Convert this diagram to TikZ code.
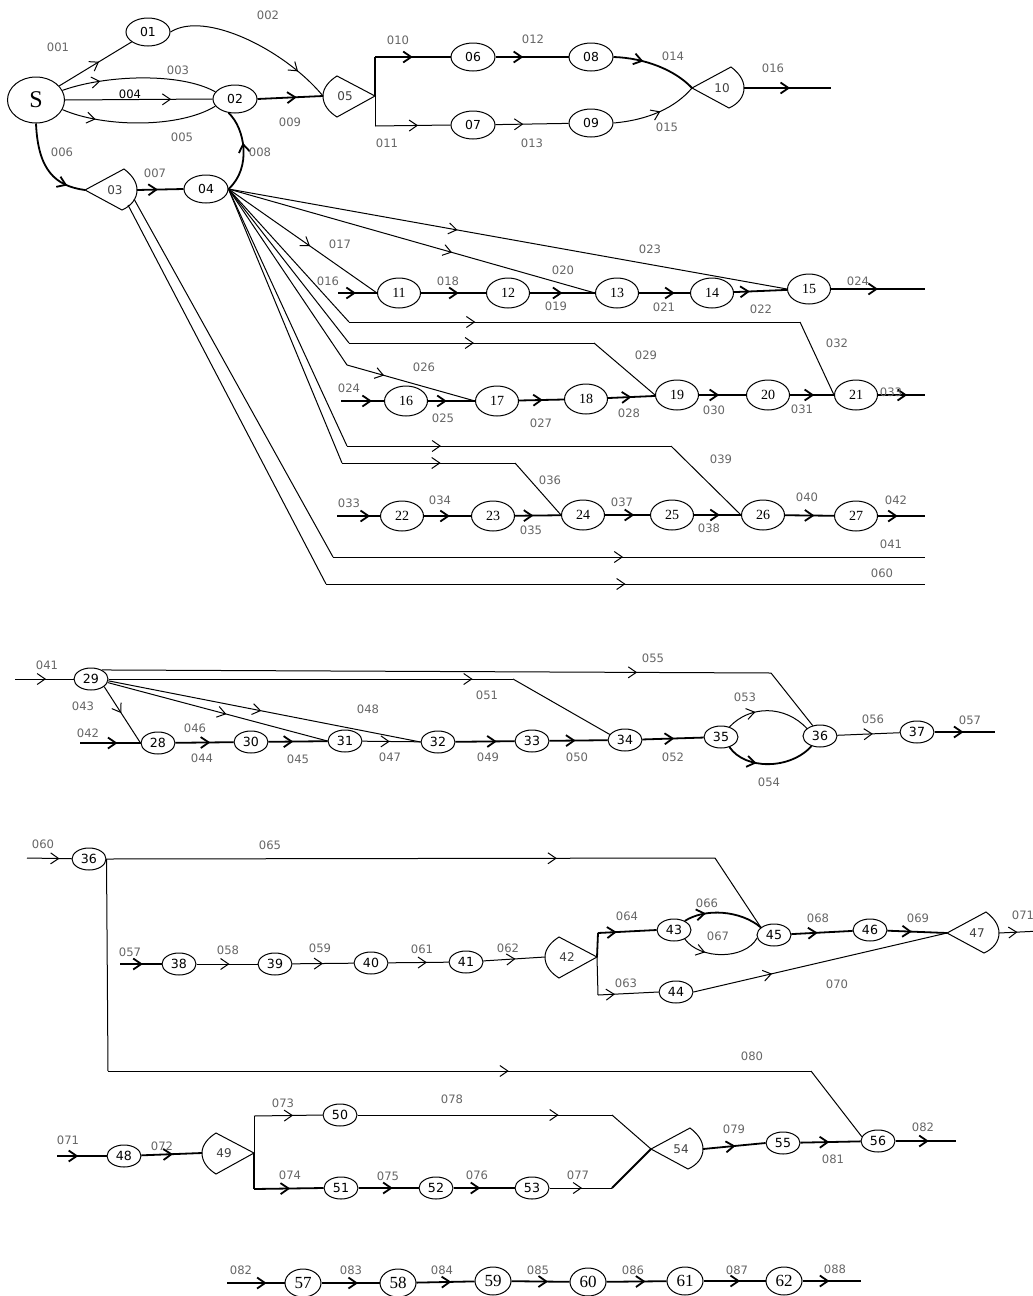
\documentclass[tikz,border=0pt]{standalone}
\usepackage{fontspec}
\setmainfont{DejaVu Sans}
\newfontfamily\tms{Liberation Serif}
\usetikzlibrary{shapes.geometric,arrows.meta,decorations.markings}

% gate with the point on the left: name, x, y, text
\newcommand{\gatel}[4]{%
  \begin{scope}[shift={(#2,#3)}]
    \draw[gate] (0,0) -- (39,-21) .. controls (47,-15) and (52,-8) .. (52,0) .. controls (52,9) and (46,16) .. (37,20) -- cycle;
    \coordinate (#1p) at (0,0);
    \coordinate (#1r) at (52,0);
    \node[gtxt] (#1) at (30,0) {#4};
  \end{scope}}
% gate with the point on the right
\newcommand{\gater}[4]{%
  \begin{scope}[shift={(#2,#3)}]
    \draw[gate] (0,0) -- (-38,-20) .. controls (-46,-15) and (-52,-8) .. (-52,0) .. controls (-52,9) and (-46,16) .. (-38,21) -- cycle;
    \coordinate (#1p) at (0,0);
    \coordinate (#1r) at (-52,0);
    \node[gtxt] (#1) at (-30,0) {#4};
  \end{scope}}

\begin{document}
\begin{tikzpicture}[
    x=0.5pt, y=-0.5pt, line width=0.5pt,
    >={Straight Barb[length=4pt,width=5.5pt]},
    sv/.style={ellipse, draw, inner sep=0pt, minimum width=28.5pt, minimum height=23pt, font=\tms\fontsize{12}{13}\selectfont},
    tv/.style={ellipse, draw, inner sep=0pt, minimum width=22pt, minimum height=14pt, font=\fontsize{6.2}{7}\selectfont},
    rv/.style={ellipse, draw, inner sep=0pt, minimum width=21.5pt, minimum height=15pt, font=\tms\fontsize{7}{8}\selectfont},
    mv/.style={ellipse, draw, inner sep=0pt, minimum width=17pt, minimum height=11pt, font=\fontsize{6.3}{7}\selectfont},
    bv/.style={ellipse, draw, inner sep=0pt, minimum width=18pt, minimum height=14pt, font=\tms\fontsize{8.5}{9}\selectfont},
    gate/.style={draw, fill=white},
    gtxt/.style={inner sep=0pt, font=\fontsize{6}{7}\selectfont, text=black!75},
    lab/.style={inner sep=0pt, font=\fontsize{5.8}{7}\selectfont, text=black!60},
    thk/.style={line width=0.9pt},
    arr/.style={postaction={decorate}, decoration={markings, mark=at position #1 with {\arrow{>}}}},
    arr/.default=0.5
]
\useasboundingbox (0,0) rectangle (1033,1296);

% ---------- part 1
\node[sv] (nS) at (36,100) {S};
\node[tv] (n01) at (148,32) {01};
\node[tv] (n02) at (235,99) {02};
\node[tv] (n04) at (206,189) {04};
\gatel{n03}{85}{190}{03}
\gater{n05}{375}{96}{05}
\node[tv] (n06) at (473,57) {06};
\node[tv] (n07) at (473,125) {07};
\node[tv] (n08) at (591,57) {08};
\node[tv] (n09) at (591,123) {09};
\gatel{n10}{692}{88}{10}
\coordinate (k010) at (375,57);
\coordinate (k011) at (375,126);
\coordinate (e016) at (831,88);

\draw[arr=.55] (nS) -- (n01);
\draw[arr=.8] (n01.east) .. controls (205,10) and (285,50) .. (n05r);
\draw[arr=.25] (nS.20) .. controls (105,75) and (180,72) .. (n02.160);
\draw[arr=.72] (nS.east) -- (n02.west);
\draw[arr=.22] (nS.-20) .. controls (105,128) and (180,128) .. (n02.-160);
\draw[thk,arr=.8] (nS.south) .. controls (38,170) and (55,186) .. (n03p);
\draw[thk,arr=.45] (n03r) -- (n04.west);
\draw[thk,arr=.6] (n04.east) .. controls (252,168) and (245,128) .. (n02.-115);
\draw[thk,arr=.6] (n02.east) -- (n05r);
\draw[thk] (n05p) -- (k010);
\draw (n05p) -- (k011);
\draw[thk,arr=.5] (k010) -- (n06.west);
\draw[arr=.57] (k011) -- (n07.west);
\draw[thk,arr=.38] (n06) -- (n08);
\draw[arr=.38] (n07) -- (n09);
\draw[thk,arr=.35] (n08.east) .. controls (645,58) and (675,70) .. (n10p);
\draw[arr=.55] (n09.east) .. controls (648,120) and (675,108) .. (n10p);
\draw[thk,arr=.53] (n10r) -- (e016);

\node[lab] (l001) at (58,47) {001};
\node[lab] (l002) at (268,15) {002};
\node[lab] (l003) at (178,70) {003};
\node[lab, text=black] (l004) at (130,94) {004};
\node[lab] (l005) at (182,137) {005};
\node[lab] (l006) at (62,152) {006};
\node[lab] (l007) at (155,173) {007};
\node[lab] (l008) at (260,152) {008};
\node[lab] (l009) at (290,122) {009};
\node[lab] (l010) at (398,40) {010};
\node[lab] (l011) at (387,143) {011};
\node[lab] (l012) at (533,39) {012};
\node[lab] (l013) at (532,143) {013};
\node[lab] (l014) at (673,56) {014};
\node[lab] (l015) at (667,127) {015};
\node[lab] (l016) at (773,68) {016};

% ---------- part 2
\node[rv] (n11) at (399,293) {11};
\node[rv] (n12) at (508,293) {12};
\node[rv] (n13) at (617,293) {13};
\node[rv] (n14) at (712,293) {14};
\node[rv] (n15) at (809,289) {15};
\node[rv] (n16) at (406,401) {16};
\node[rv] (n17) at (497,401) {17};
\node[rv] (n18) at (586,399) {18};
\node[rv] (n19) at (677,395) {19};
\node[rv] (n20) at (768,395) {20};
\node[rv] (n21) at (856,395) {21};
\node[rv] (n22) at (402,516) {22};
\node[rv] (n23) at (493,516) {23};
\node[rv] (n24) at (583,515) {24};
\node[rv] (n25) at (672,515) {25};
\node[rv] (n26) at (763,515) {26};
\node[rv] (n27) at (856,516) {27};
\coordinate (s016) at (338,293);
\coordinate (e024) at (925,289);
\coordinate (s024) at (341,401);
\coordinate (e033) at (925,395);
\coordinate (s033) at (337,516);
\coordinate (e042) at (925,516);
\coordinate (k32a) at (349,322);
\coordinate (k32b) at (800,322);
\coordinate (k29a) at (349,343);
\coordinate (k29b) at (594,343);
\coordinate (k26) at (347,365);
\coordinate (k39a) at (347,446);
\coordinate (k39b) at (671,446);
\coordinate (k36a) at (342,463);
\coordinate (k36b) at (515,463);
\coordinate (o3a) at (128,205);
\coordinate (o3b) at (134,199);
\coordinate (k41) at (333,557);
\coordinate (e041) at (925,557);
\coordinate (k60) at (326,584);
\coordinate (e060) at (925,584);

\draw[thk,arr=.46] (s016) -- (n11);
\draw[thk,arr=.58] (n11) -- (n12);
\draw[thk,arr=.5] (n12) -- (n13);
\draw[thk,arr=.7] (n13) -- (n14);
\draw[thk,arr=.3] (n14) -- (n15);
\draw[thk,arr=.5] (n15) -- (e024);
\draw[arr=.55] (n04.east) -- (n11.west);
\draw[arr=.61] (n04.east) -- (n13.west);
\draw[arr=.41] (n04.east) -- (n15.west);
\draw (n04.east) -- (k32a);
\draw[arr=.28] (k32a) -- (k32b);
\draw (k32b) -- (n21.west);
\draw (n04.east) -- (k29a);
\draw[arr=.51] (k29a) -- (k29b);
\draw (k29b) -- (n19.west);
\draw (n04.east) -- (k26);
\draw[arr=.29] (k26) -- (n17.west);
\draw (n04.east) -- (k39a);
\draw[arr=.29] (k39a) -- (k39b);
\draw (k39b) -- (n26.west);
\draw (n04.east) -- (k36a);
\draw[arr=.57] (k36a) -- (k36b);
\draw (k36b) -- (n24.west);

\draw[thk,arr=.72] (s024) -- (n16);
\draw[thk,arr=.4] (n16) -- (n17);
\draw[thk,arr=.53] (n17) -- (n18);
\draw[thk,arr=.5] (n18) -- (n19);
\draw[thk,arr=.43] (n19) -- (n20);
\draw[thk,arr=.55] (n20) -- (n21);
\draw[thk,arr=.62] (n21) -- (e033);

\draw[thk,arr=.77] (s033) -- (n22);
\draw[thk,arr=.55] (n22) -- (n23);
\draw[thk,arr=.4] (n23) -- (n24);
\draw[thk,arr=.65] (n24) -- (n25);
\draw[thk,arr=.55] (n25) -- (n26);
\draw[thk,arr=.6] (n26) -- (n27);
\draw[thk,arr=.42] (n27) -- (e042);

\draw (o3b) -- (k41);
\draw[arr=.49] (k41) -- (e041);
\draw (o3a) -- (k60);
\draw[arr=.5] (k60) -- (e060);

\node[lab] (l016b) at (328,281) {016};
\node[lab] (l017) at (340,244) {017};
\node[lab] (l018) at (448,281) {018};
\node[lab] (l019) at (556,306) {019};
\node[lab] (l020) at (563,270) {020};
\node[lab] (l021) at (664,307) {021};
\node[lab] (l022) at (761,309) {022};
\node[lab] (l023) at (650,249) {023};
\node[lab] (l024a) at (858,281) {024};
\node[lab] (l026) at (424,367) {026};
\node[lab] (l024b) at (349,388) {024};
\node[lab] (l025) at (443,418) {025};
\node[lab] (l027) at (541,423) {027};
\node[lab] (l028) at (629,413) {028};
\node[lab] (l029) at (646,355) {029};
\node[lab] (l030) at (714,410) {030};
\node[lab] (l031) at (802,409) {031};
\node[lab] (l032) at (837,343) {032};
\node[lab] (l033a) at (891,392) {033};
\node[lab] (l033b) at (349,503) {033};
\node[lab] (l034) at (440,500) {034};
\node[lab] (l035) at (531,530) {035};
\node[lab] (l036) at (550,480) {036};
\node[lab] (l037) at (622,502) {037};
\node[lab] (l038) at (709,528) {038};
\node[lab] (l039) at (721,459) {039};
\node[lab] (l040) at (807,497) {040};
\node[lab] (l042a) at (896,500) {042};
\node[lab] (l041a) at (891,544) {041};
\node[lab] (l060a) at (882,573) {060};

% ---------- part 3
\node[mv] (n29) at (91,679) {29};
\node[mv] (n28) at (158,743) {28};
\node[mv] (n30) at (251,742) {30};
\node[mv] (n31) at (345,741) {31};
\node[mv] (n32) at (438,742) {32};
\node[mv] (n33) at (532,741) {33};
\node[mv] (n34) at (625,740) {34};
\node[mv] (n35) at (721,737) {35};
\node[mv] (n36a) at (820,736) {36};
\node[mv] (n37) at (917,732) {37};
\coordinate (s041) at (15,679);
\coordinate (s042) at (80,743);
\coordinate (k55) at (771,673);
\coordinate (k51) at (513,679);
\coordinate (e057) at (995,732);

\draw[arr=.53] (s041) -- (n29);
\draw[arr=.8] (n29.40) -- (k55);
\draw (k55) -- (n36a.125);
\draw[arr=.9] (n29.east) -- (k51);
\draw (k51) -- (n34.160);
\draw[arr=.47] (n29.-30) -- (n28.west);
\draw[arr=.54] (n29.-12) -- (n31.west);
\draw[arr=.49] (n29.-6) -- (n32.west);
\draw[thk,arr=.62] (s042) -- (n28);
\draw[thk,arr=.6] (n28) -- (n30);
\draw[thk,arr=.42] (n30) -- (n31);
\draw[arr=.47] (n31) -- (n32);
\draw[thk,arr=.7] (n32) -- (n33);
\draw[thk,arr=.45] (n33) -- (n34);
\draw[thk,arr=.52] (n34) -- (n35);
\draw[arr=.35] (n35.50) .. controls (750,705) and (785,705) .. (n36a.150);
\draw[thk,arr=.35] (n35.-50) .. controls (745,770) and (790,770) .. (n36a.-130);
\draw[arr=.57] (n36a) -- (n37);
\draw[thk,arr=.48] (n37) -- (e057);

\node[lab] (l041b) at (47,665) {041};
\node[lab] (l043) at (83,706) {043};
\node[lab] (l042b) at (88,733) {042};
\node[lab] (l046) at (195,728) {046};
\node[lab] (l048) at (368,709) {048};
\node[lab] (l051) at (487,695) {051};
\node[lab] (l055) at (653,658) {055};
\node[lab] (l044) at (202,758) {044};
\node[lab] (l045) at (298,759) {045};
\node[lab] (l047) at (390,757) {047};
\node[lab] (l049) at (488,757) {049};
\node[lab] (l050) at (577,757) {050};
\node[lab] (l052) at (673,757) {052};
\node[lab] (l053) at (745,697) {053};
\node[lab] (l054) at (769,782) {054};
\node[lab] (l056) at (873,719) {056};
\node[lab] (l057a) at (970,720) {057};

% ---------- part 4
\node[mv] (n36b) at (89,859) {36};
\node[mv] (n38) at (179,964) {38};
\node[mv] (n39) at (275,964) {39};
\node[mv] (n40) at (371,963) {40};
\node[mv] (n41) at (466,962) {41};
\gater{n42}{597}{957}{42}
\node[mv] (n43) at (674,930) {43};
\node[mv] (n44) at (676,992) {44};
\node[mv] (n45) at (774,935) {45};
\node[mv] (n46) at (870,930) {46};
\gatel{n47}{947}{933}{47}
\coordinate (s060) at (27,858);
\coordinate (k65) at (715,858);
\coordinate (k80a) at (108,1071);
\coordinate (k80b) at (811,1071);
\coordinate (s057) at (120,964);
\coordinate (k64) at (598,933);
\coordinate (k63) at (598,995);
\coordinate (e071) at (1040,931);

\draw[arr=.73] (s060) -- (n36b);
\draw[arr=.74] (n36b.east) -- (k65);
\draw (k65) -- (n45.150);
\draw (n36b.east) -- (k80a);
\draw[arr=.57] (k80a) -- (k80b);
\draw[thk,arr=.55] (s057) -- (n38);
\draw[arr=.54] (n38) -- (n39);
\draw[arr=.5] (n39) -- (n40);
\draw[arr=.64] (n40) -- (n41);
\draw[arr=.52] (n41) -- (n42r);
\draw[thk] (n42p) -- (k64);
\draw (n42p) -- (k63);
\draw[thk,arr=.32] (k64) -- (n43.west);
\draw[arr=.28] (k63) -- (n44.west);
\draw[thk,arr=.28] (n43.40) .. controls (705,908) and (740,910) .. (n45.150);
\draw[arr=.3] (n43.-40) .. controls (700,960) and (745,960) .. (n45.-170);
\draw[thk,arr=.43] (n45) -- (n46);
\draw[thk,arr=.41] (n46) -- (n47p);
\draw[arr=.31] (n44.east) -- (n47p);
\draw[arr=.45] (n47r) -- (e071);

\node[lab] (l060b) at (43,844) {060};
\node[lab] (l065) at (270,845) {065};
\node[lab] (l057b) at (130,952) {057};
\node[lab] (l058) at (228,950) {058};
\node[lab] (l059) at (320,948) {059};
\node[lab] (l061) at (422,949) {061};
\node[lab] (l062) at (508,948) {062};
\node[lab] (l064) at (627,916) {064};
\node[lab] (l063) at (626,983) {063};
\node[lab] (l066) at (707,903) {066};
\node[lab] (l067) at (718,936) {067};
\node[lab] (l068) at (818,918) {068};
\node[lab] (l069) at (918,918) {069};
\node[lab] (l070) at (837,984) {070};
\node[lab] (l071a) at (1023,915) {071};
\node[lab] (l080) at (752,1056) {080};

% ---------- part 5
\node[mv] (n48) at (124,1156) {48};
\gater{n49}{254}{1153}{49}
\node[mv] (n50) at (340,1115) {50};
\node[mv] (n51) at (341,1188) {51};
\node[mv] (n52) at (436,1188) {52};
\node[mv] (n53) at (532,1188) {53};
\gatel{n54}{651}{1149}{54}
\node[mv] (n55) at (783,1143) {55};
\node[mv] (n56) at (878,1141) {56};
\coordinate (s071) at (57,1156);
\coordinate (k73) at (254,1116);
\coordinate (k74) at (254,1189);
\coordinate (k77) at (612,1188);
\coordinate (k78) at (612,1115);
\coordinate (e082) at (956,1141);

\draw (k80b) -- (n56.165);
\draw[thk,arr=.43] (s071) -- (n48);
\draw[thk,arr=.52] (n48) -- (n49r);
\draw (n49p) -- (k73);
\draw[thk] (n49p) -- (k74);
\draw[arr=.57] (k73) -- (n50.west);
\draw[thk,arr=.52] (k74) -- (n51.west);
\draw[thk,arr=.57] (n51) -- (n52);
\draw[thk,arr=.44] (n52) -- (n53);
\draw[arr=.52] (n53.east) -- (k77);
\draw[thk] (k77) -- (n54p);
\draw[arr=.79] (n50.east) -- (k78);
\draw (k78) -- (n54p);
\draw[thk,arr=.52] (n54r) -- (n55.west);
\draw[thk,arr=.48] (n55) -- (n56);
\draw[thk,arr=.55] (n56) -- (e082);

\node[lab] (l071b) at (68,1140) {071};
\node[lab] (l072) at (162,1146) {072};
\node[lab] (l073) at (283,1103) {073};
\node[lab] (l074) at (290,1175) {074};
\node[lab] (l078) at (452,1099) {078};
\node[lab] (l075) at (388,1176) {075};
\node[lab] (l076) at (477,1175) {076};
\node[lab] (l077) at (578,1175) {077};
\node[lab] (l079) at (734,1129) {079};
\node[lab] (l081) at (833,1159) {081};
\node[lab] (l082a) at (923,1127) {082};

% ---------- part 6
\node[bv] (n57) at (303,1283) {57};
\node[bv] (n58) at (398,1283) {58};
\node[bv] (n59) at (493,1281) {59};
\node[bv] (n60) at (588,1282) {60};
\node[bv] (n61) at (685,1281) {61};
\node[bv] (n62) at (784,1281) {62};
\coordinate (s082) at (227,1283);
\coordinate (e088) at (861,1281);

\draw[thk,arr=.69] (s082) -- (n57);
\draw[thk,arr=.63] (n57) -- (n58);
\draw[thk,arr=.6] (n58) -- (n59);
\draw[thk,arr=.63] (n59) -- (n60);
\draw[thk,arr=.65] (n60) -- (n61);
\draw[thk,arr=.59] (n61) -- (n62);
\draw[thk,arr=.46] (n62) -- (e088);

\node[lab] (l082b) at (241,1270) {082};
\node[lab] (l083) at (351,1270) {083};
\node[lab] (l084) at (442,1270) {084};
\node[lab] (l085) at (538,1270) {085};
\node[lab] (l086) at (633,1270) {086};
\node[lab] (l087) at (737,1270) {087};
\node[lab] (l088) at (835,1269) {088};
\end{tikzpicture}
\end{document}
